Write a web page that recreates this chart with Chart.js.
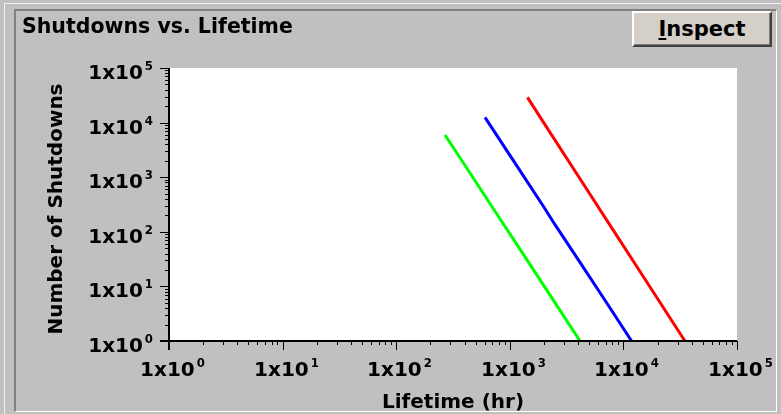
<!DOCTYPE html>
<html>
<head>
<meta charset="utf-8">
<title>Shutdowns vs. Lifetime</title>
<script src="https://cdn.jsdelivr.net/npm/chart.js@4/dist/chart.umd.min.js"></script>
<style>
    html, body { margin: 0; padding: 0; }
    body {
        width: 781px; height: 414px; overflow: hidden; position: relative;
        background: #c0c0c0; font-family: 'DejaVu Sans', sans-serif;
    }
    #frame {
        position: absolute; left: 4px; top: 3px; width: 777px; height: 411px;
        border-left: 1px solid #f2f2f2; border-top: 1px solid #f2f2f2;
    }
    #panel {
        position: absolute; left: 14px; top: 9px; width: 760px; height: 400px;
        border-left: 2px solid #808080; border-top: 2px solid #808080;
        border-right: 1px solid #ffffff; border-bottom: 1px solid #ffffff;
    }
    #chart { position: absolute; left: 0; top: 0; }
    #inspect {
        position: absolute; left: 632px; top: 11px; width: 140px; height: 36px;
        box-sizing: border-box; padding: 0; margin: 0;
        background: #d4d0c8; color: #000;
        border-top: 2px solid #ffffff; border-left: 2px solid #ffffff;
        border-right: 2px solid #404040; border-bottom: 2px solid #404040;
        box-shadow: inset -1px -1px 0 #808080;
        font: bold 21px 'DejaVu Sans', sans-serif; line-height: 30px; text-align: center;
    }
</style>
</head>
<body>
<div id="frame"></div>
<div id="panel"></div>
<canvas id="chart" width="781" height="414"></canvas>
<button id="inspect"><u>I</u>nspect</button>
<script>
// lifetime (hr) vs. number of shutdowns, one curve per unit
const greenHours = [269, 400, 700, 1200, 2000, 4150];
const greenShutdowns = [5930, 1690, 285, 52, 10.2, 1];
const blueHours = [605, 1000, 2000, 2500, 4000, 7000, 11800];
const blueShutdowns = [12500, 2540, 282, 135, 31, 5.3, 1];
const redHours = [1430, 2000, 4000, 8000, 15000, 25000, 34800];
const redShutdowns = [29000, 9770, 1054, 113, 15, 2.9, 1];

// both axes run 1x10^0 .. 1x10^5
const decades = [1, 10, 100, 1000, 10000, 100000];
const decadeExponents = ['0', '1', '2', '3', '4', '5'];

const LABEL_FONT = 'bold 20px "DejaVu Sans"';
const SUP_FONT = 'bold 13px "Liberation Sans Narrow", "DejaVu Sans Condensed"';

function series(hours, counts, color) {
    return {
        data: hours.map((h, i) => ({ x: h, y: counts[i] })),
        borderColor: color,
        borderWidth: 3,
        pointRadius: 0,
        tension: 0,
        fill: false
    };
}

// draws "1x10" with a raised exponent; (x, baseline) is the left end
function powerLabel(ctx, exp, x, baseline) {
    ctx.font = LABEL_FONT;
    ctx.fillText('1x10', x, baseline);
    const w = ctx.measureText('1x10').width;
    ctx.font = SUP_FONT;
    ctx.fillText(exp, x + w + 2, baseline - 9);
}

function powerLabelWidth(ctx, exp) {
    ctx.font = LABEL_FONT;
    const w = ctx.measureText('1x10').width;
    ctx.font = SUP_FONT;
    return w + 2 + ctx.measureText(exp).width;
}

function seg(ctx, x1, y1, x2, y2) {
    ctx.beginPath();
    ctx.moveTo(x1, y1);
    ctx.lineTo(x2, y2);
    ctx.stroke();
}

const plotBackground = {
    id: 'plotBackground',
    beforeDraw(chart) {
        const { ctx, chartArea: a } = chart;
        ctx.save();
        ctx.fillStyle = '#ffffff';
        ctx.fillRect(a.left, a.top, a.right - a.left, a.bottom - a.top);
        ctx.restore();
    }
};

const logAxes = {
    id: 'logAxes',
    afterDraw(chart) {
        const { ctx, chartArea: a, scales: { x, y } } = chart;
        ctx.save();
        ctx.strokeStyle = '#000';
        ctx.fillStyle = '#000';

        // axis lines, crossing at the origin
        ctx.lineWidth = 2;
        seg(ctx, a.left, a.top, a.left, a.bottom + 9);
        seg(ctx, a.left - 9, a.bottom, a.right, a.bottom);

        // minor ticks at 2..9 of every decade
        ctx.lineWidth = 1;
        for (let d = 0; d < decades.length - 1; d++) {
            for (let m = 2; m <= 9; m++) {
                const v = decades[d] * m;
                const px = Math.round(x.getPixelForValue(v)) + 0.5;
                seg(ctx, px, a.bottom, px, a.bottom + 4);
                const py = Math.round(y.getPixelForValue(v)) + 0.5;
                seg(ctx, a.left - 4, py, a.left, py);
            }
        }

        // decade ticks and labels
        ctx.textBaseline = 'alphabetic';
        ctx.textAlign = 'left';
        decades.forEach((v, i) => {
            const px = Math.round(x.getPixelForValue(v)) + 0.5;
            const py = Math.round(y.getPixelForValue(v)) + 0.5;
            if (i > 0) {
                seg(ctx, px, a.bottom, px, a.bottom + 9);
                seg(ctx, a.left - 9, py, a.left, py);
            }
            const w = powerLabelWidth(ctx, decadeExponents[i]);
            powerLabel(ctx, decadeExponents[i], px + 3 - w / 2, a.bottom + 35);
            powerLabel(ctx, decadeExponents[i], a.left - 16 - w, py + 10);
        });

        // axis titles
        ctx.font = 'bold 20px "DejaVu Sans"';
        ctx.textAlign = 'center';
        ctx.textBaseline = 'middle';
        ctx.fillText('Lifetime (hr)', (a.left + a.right) / 2, 403);
        ctx.save();
        ctx.translate(57, 209);
        ctx.rotate(-Math.PI / 2);
        ctx.fillText('Number of Shutdowns', 0, 0);
        ctx.restore();

        // panel caption
        ctx.font = 'bold 20.5px "DejaVu Sans"';
        ctx.textAlign = 'left';
        ctx.textBaseline = 'alphabetic';
        ctx.fillText('Shutdowns vs. Lifetime', 22, 33);
        ctx.restore();
    }
};

new Chart(document.getElementById('chart'), {
    type: 'line',
    data: {
        datasets: [
            series(greenHours, greenShutdowns, '#00ff00'),
            series(blueHours, blueShutdowns, '#0000ff'),
            series(redHours, redShutdowns, '#ff0000')
        ]
    },
    options: {
        responsive: false,
        animation: false,
        devicePixelRatio: 1,
        layout: { padding: { top: 68, right: 44, bottom: 0, left: 0 } },
        plugins: { legend: { display: false }, tooltip: { enabled: false } },
        scales: {
            x: {
                type: 'logarithmic', min: 1, max: 100000,
                ticks: { display: false }, grid: { display: false }, border: { display: false },
                afterFit: (s) => { s.height = 73; }
            },
            y: {
                type: 'logarithmic', min: 1, max: 100000,
                ticks: { display: false }, grid: { display: false }, border: { display: false },
                afterFit: (s) => { s.width = 169; }
            }
        }
    },
    plugins: [plotBackground, logAxes]
});
</script>
</body>
</html>
